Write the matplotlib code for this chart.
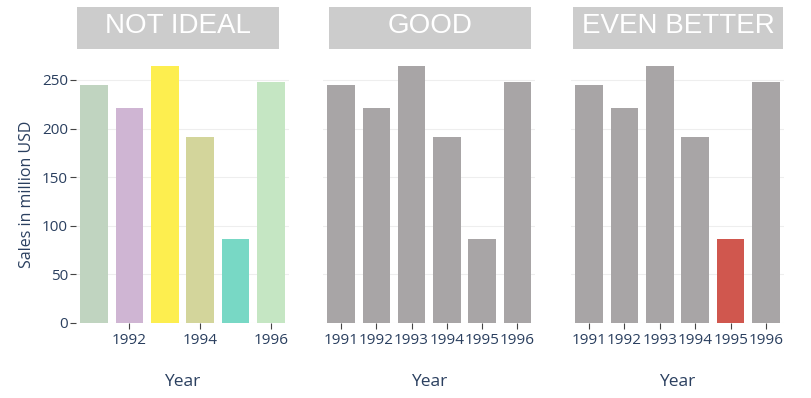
import matplotlib.pyplot as plt
from matplotlib.patches import Rectangle

plt.rcParams['font.family'] = ['Open Sans', 'DejaVu Sans']

years = ['1991', '1992', '1993', '1994', '1995', '1996']
sales = [245, 221, 264, 191, 86, 248]
titles = ['NOT IDEAL', 'GOOD', 'EVEN BETTER']
colors_bad = ['#c0d4c0', '#cfb5d3', '#fdee4f', '#d3d59b', '#78d8c5', '#c5e6c3']
grey = '#a8a5a6'
red = '#d0574e'
navy = '#2a3f5f'

W, H = 811, 398
fig = plt.figure(figsize=(W / 100, H / 100), dpi=100)

# axes pixel extents (left, right) and title box extents
ax_px = [(76.3, 288.7), (323.4, 535.0), (571.3, 783.7)]
box_px = [(77, 279), (329, 531), (573, 783)]
bottom_px, top_px = 323, 65.4

for i in range(3):
    l, r = ax_px[i]
    ax = fig.add_axes([l / W, 1 - bottom_px / H, (r - l) / W, (bottom_px - top_px) / H])
    if i == 0:
        cols = colors_bad
    elif i == 1:
        cols = [grey] * 6
    else:
        cols = [red if y == '1995' else grey for y in years]
    ax.bar(range(len(years)), sales, width=0.78, color=cols, zorder=2)
    ax.set_xlim(-0.5, 5.5)
    ax.set_ylim(0, 265)
    ax.set_yticks([0, 50, 100, 150, 200, 250])
    ax.grid(axis='y', color='#eeeeee', linewidth=0.8, zorder=0)
    for s in ax.spines.values():
        s.set_visible(False)
    if i == 0:
        ax.set_xticks([1, 3, 5])
        ax.set_xticklabels([years[1], years[3], years[5]])
        ax.set_ylabel('Sales in million USD', fontsize=11.5, color=navy, labelpad=5)
        ax.tick_params(axis='y', colors='#444444', labelcolor=navy, labelsize=11,
                       length=4, width=0.8, pad=2)
    else:
        ax.set_xticks(range(len(years)))
        ax.set_xticklabels(years)
        ax.tick_params(axis='y', left=False, labelleft=False)
    ax.tick_params(axis='x', colors='#444444', labelcolor=navy, labelsize=11,
                   length=4, width=0.8, pad=3)
    ax.set_xlabel('Year', fontsize=12.5, color=navy, labelpad=19)

    bl, br = box_px[i]
    fig.patches.append(Rectangle((bl / W, 1 - 49 / H), (br - bl) / W, 42 / H,
                                 transform=fig.transFigure, facecolor='#cccccc',
                                 edgecolor='none'))
    fig.text((bl + br) / 2 / W, 1 - 26 / H, titles[i], color='white',
             fontsize=20, ha='center', va='center', family='Liberation Sans')

fig.savefig('out.png', dpi=100)
